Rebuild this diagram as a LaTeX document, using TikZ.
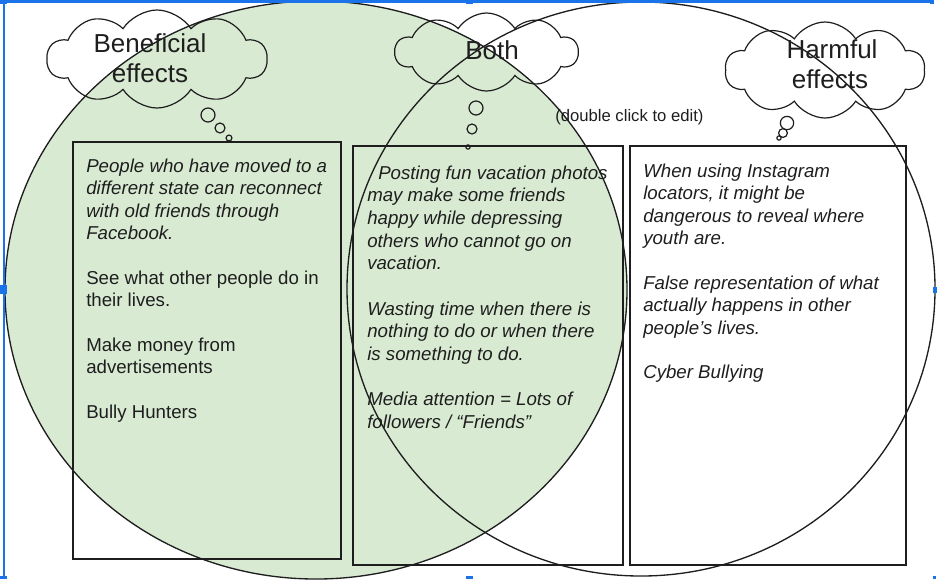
\documentclass[tikz,border=0pt]{standalone}
\usepackage{fontspec}
\setmainfont{Liberation Sans}
\usetikzlibrary{shapes.symbols}
\definecolor{vgreen}{HTML}{D9EAD3}
\definecolor{selblue}{HTML}{1A73E8}
\definecolor{ink}{HTML}{1E1E1E}
\begin{document}
\begin{tikzpicture}[x=0.75pt,y=-0.75pt,
  boxshape/.style={draw=ink, line width=1pt, minimum height=314.25pt, inner sep=0pt},
  boxtxt/.style={anchor=north west, inner sep=0pt, align=left, text=ink, font=\fontsize{14}{16.8}\selectfont},
  cloudshape/.style={cloud, draw=ink, line width=0.9pt, cloud puffs=10, cloud puff arc=115, cloud ignores aspect, inner sep=0pt},
  cloudtxt/.style={anchor=base, inner sep=0pt, text=ink, font=\fontsize{19.5}{22.5}\selectfont},
  bubble/.style={draw=ink, line width=0.9pt},
  vennline/.style={draw=ink, line width=1pt},
  handle/.style={fill=selblue}
]
\useasboundingbox (0,0) rectangle (937,587);
% green set
\fill[vgreen] (316,290) ellipse [x radius=233.25pt, y radius=216.75pt];
% boxes
\node[boxshape, minimum width=201pt, minimum height=312.75pt] (box1) at (207,350.5) {};
\node[boxshape, minimum width=202.5pt] (box2) at (488,355.5) {};
\node[boxshape, minimum width=207pt] (box3) at (768,355.5) {};
% box texts
\node[boxtxt] (t1) at (86,158.4) {\itshape People who have moved to a\\\itshape different state can reconnect\\\itshape with old friends through\\\itshape Facebook.\\[16.8pt]
See what other people do in\\their lives.\\[16.8pt]
Make money from\\advertisements\\[16.8pt]
Bully Hunters};
\node[boxtxt, font=\fontsize{14}{17}\selectfont\itshape] (t2) at (367,165.4) {\hspace*{8.25pt}Posting fun vacation photos\\may make some friends\\happy while depressing\\others who cannot go on\\vacation.\\[17pt]
Wasting time when there is\\nothing to do or when there\\is something to do.\\[17pt]
Media attention = Lots of\\followers / “Friends”};
\node[boxtxt, font=\fontsize{14}{16.8}\selectfont\itshape] (t3) at (643,163.4) {When using Instagram\\locators, it might be\\dangerous to reveal where\\youth are.\\[16.8pt]
False representation of what\\actually happens in other\\people’s lives.\\[16.8pt]
Cyber Bullying};
% clouds
\node[cloudshape, minimum width=165pt, minimum height=73.5pt] (c1) at (157,59) {};
\node[cloudshape, minimum width=137.25pt, minimum height=58.5pt] (c2) at (486.5,52) {};
\node[cloudshape, minimum width=150pt, minimum height=72pt] (c3) at (825,70) {};
\node[cloudtxt] (c1a) at (150,52) {Beneficial};
\node[cloudtxt] (c1b) at (150,82) {effects};
\node[cloudtxt] (c2a) at (492,59) {Both};
\node[cloudtxt] (c3a) at (832,58) {Harmful};
\node[cloudtxt] (c3b) at (830,88) {effects};
\node[anchor=base west, inner sep=0pt, text=ink, font=\fontsize{12.5}{15}\selectfont] (hint) at (555,121) {(double click to edit)};
% thought bubbles
\draw[bubble] (208,115) circle [radius=5.25pt];
\draw[bubble] (220,128) circle [radius=3.75pt];
\draw[bubble] (229,138) circle [radius=2.2pt];
\draw[bubble] (476,108) circle [radius=5.25pt];
\draw[bubble] (472,129) circle [radius=3.75pt];
\draw[bubble] (468,147) circle [radius=1.6pt];
\draw[bubble] (787,123) circle [radius=5pt];
\draw[bubble] (783,133) circle [radius=3.3pt];
\draw[bubble] (779,138) circle [radius=1.6pt];
% venn outlines
\draw[vennline] (316,290) ellipse [x radius=233.25pt, y radius=216.75pt];
\draw[vennline] (641,289) ellipse [x radius=220.5pt, y radius=215.25pt];
% selection frame
\fill[selblue] (0,0) rectangle (933,2.5);
\fill[selblue] (2.5,0) rectangle (4.5,576);
\fill[handle] (0,0) rectangle (7,3.5);
\fill[handle] (466,0) rectangle (473,4);
\fill[handle] (930,0) rectangle (934,4);
\fill[handle] (0,285) rectangle (7,294);
\fill[handle] (933,287) rectangle (937,293);
\fill[handle] (0,576) rectangle (7,579);
\fill[handle] (466,576) rectangle (473,579);
\fill[handle] (933,576) rectangle (936,579);
\end{tikzpicture}
\end{document}
